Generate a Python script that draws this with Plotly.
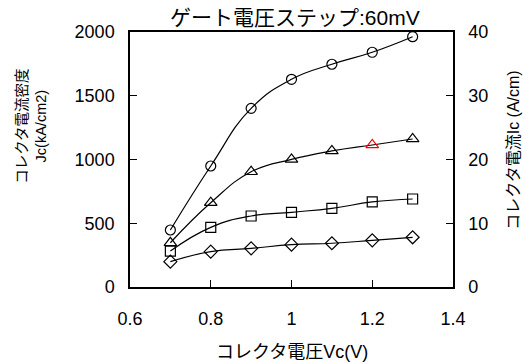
import plotly.graph_objects as go

# Collector voltage sweep (V)
vc = [0.7, 0.8, 0.9, 1.0, 1.1, 1.2, 1.3]

# Collector current density Jc (kA/cm2), one series per gate-voltage step
jc_circle = [447, 949, 1401, 1629, 1747, 1841, 1963]
jc_triangle = [347, 661, 904, 1001, 1067, 1114, 1161]
jc_square = [282, 468, 557, 586, 617, 667, 690]
jc_diamond = [199, 277, 303, 332, 343, 366, 390]

# Outline colour of the triangle markers (one highlighted point)
triangle_colors = ["black", "black", "black", "black", "black", "red", "black"]

x_ticks = [0.6, 0.8, 1.0, 1.2, 1.4]
x_tick_text = ["0.6", "0.8", "1", "1.2", "1.4"]
jc_ticks = [0, 500, 1000, 1500, 2000]
ic_ticks = [0, 10, 20, 30, 40]

FONT = "Liberation Sans, Arial, Noto Sans CJK JP, sans-serif"

fig = go.Figure()

series = [
    (jc_circle, "circle-open", 10, "black"),
    (jc_triangle, "triangle-up-open", 11, triangle_colors),
    (jc_square, "square-open", 10, "black"),
    (jc_diamond, "diamond-open", 10, "black"),
]
for values, symbol, size, color in series:
    fig.add_trace(go.Scatter(
        x=vc, y=values, mode="lines+markers",
        line=dict(color="black", width=1.2, shape="spline", smoothing=1.3),
        marker=dict(symbol=symbol, size=size, color=color, line=dict(width=1.2)),
        showlegend=False, hoverinfo="skip",
    ))

# Collector current Ic (A/cm) on the right axis (same curve, scaled)
fig.add_trace(go.Scatter(
    x=vc, y=[v / 50 for v in jc_circle], yaxis="y2", mode="lines",
    line=dict(color="rgba(0,0,0,0)"), showlegend=False, hoverinfo="skip",
))

axis_common = dict(
    ticks="inside", ticklen=7, tickwidth=1, tickcolor="black",
    showgrid=False, zeroline=False, showline=True, linecolor="black",
    tickfont=dict(family=FONT, size=18, color="black"),
)

fig.update_layout(
    width=523, height=364,
    margin=dict(l=130, r=70, t=32, b=77),
    paper_bgcolor="white", plot_bgcolor="white",
    font=dict(family=FONT, color="black"),
    xaxis=dict(
        range=[0.6, 1.4], tickvals=x_ticks, ticktext=x_tick_text,
        linewidth=2, mirror=True, ticklabelstandoff=14, **axis_common,
    ),
    yaxis=dict(
        range=[0, 2000], tickvals=jc_ticks, linewidth=1.5,
        ticklabelstandoff=10, **axis_common,
    ),
    yaxis2=dict(
        range=[0, 40], tickvals=ic_ticks, overlaying="y", side="right",
        anchor="x", linewidth=1.5, ticklabelstandoff=10, **axis_common,
    ),
    annotations=[
        dict(text="ゲート電圧ステップ:60mV", xref="paper", yref="paper",
             x=0.51, y=1.058, xanchor="center", yanchor="middle",
             showarrow=False, font=dict(family=FONT, size=21)),
        dict(text="コレクタ電圧Vc(V)", xref="paper", yref="paper",
             x=0.5, y=-0.255, xanchor="center", yanchor="middle",
             showarrow=False, font=dict(family=FONT, size=18)),
        dict(text="コレクタ電流密度<br>Jc(kA/cm2)", xref="paper", yref="paper",
             x=-0.305, y=0.63, xanchor="center", yanchor="middle",
             textangle=-90, showarrow=False,
             font=dict(family=FONT, size=14.5)),
        dict(text="コレクタ電流Ic (A/cm)", xref="paper", yref="paper",
             x=1.186, y=0.535, xanchor="center", yanchor="middle",
             textangle=-90, showarrow=False,
             font=dict(family=FONT, size=16)),
    ],
)

fig.write_html("out.html")
